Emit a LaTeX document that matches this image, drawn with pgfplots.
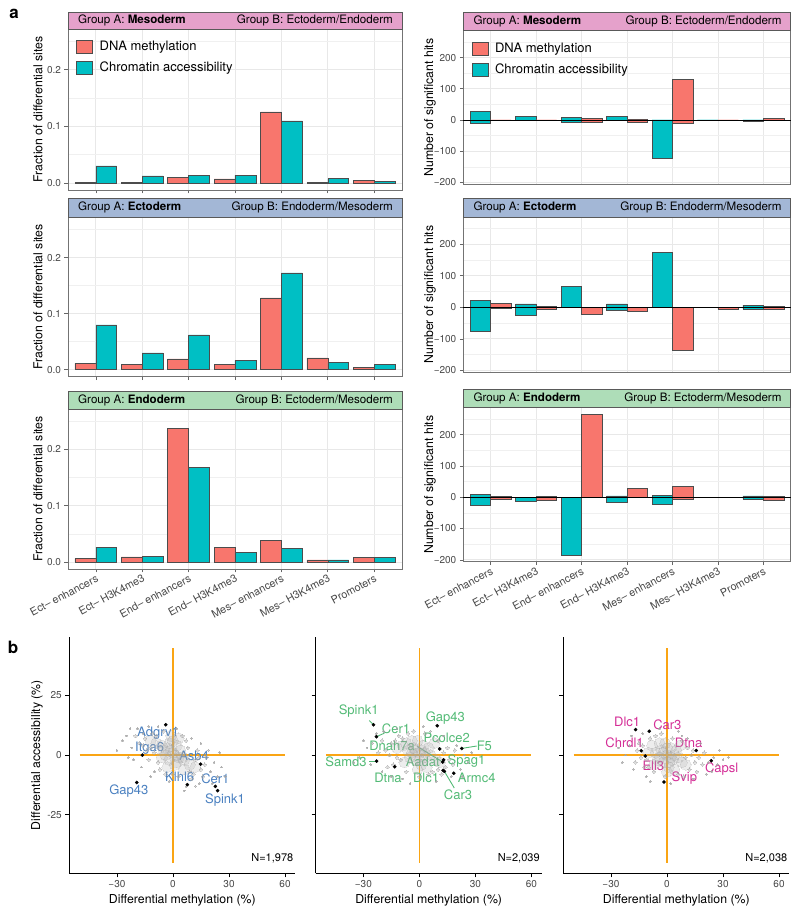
\documentclass[border=0pt]{standalone}
\usepackage{fontspec}
\setmainfont{TeX Gyre Heros}
\usepackage{pgfplots}
\usepackage{pgfplotstable}
\pgfplotsset{compat=1.18}
\definecolor{redbar}{RGB}{248,118,109}
\definecolor{tealbar}{RGB}{0,191,196}
\definecolor{pinkstrip}{RGB}{229,161,203}
\definecolor{bluestrip}{RGB}{163,183,214}
\definecolor{greenstrip}{RGB}{174,221,184}
\definecolor{orangeline}{RGB}{250,165,20}
\definecolor{genblue}{RGB}{74,128,192}
\definecolor{gengreen}{RGB}{82,186,117}
\definecolor{genmag}{RGB}{212,45,150}
\definecolor{cloud}{RGB}{165,165,165}

\pgfplotstableread{
c red teal
1 0.0005 0.0300
2 0.0005 0.0125
3 0.0095 0.0137
4 0.0070 0.0137
5 0.1256 0.1095
6 0.0005 0.0077
7 0.0040 0.0024
}\tabLone
\pgfplotstableread{
c red teal
1 0.0112 0.0800
2 0.0089 0.0300
3 0.0195 0.0620
4 0.0095 0.0166
5 0.1280 0.1730
6 0.0213 0.0124
7 0.0041 0.0089
}\tabLtwo
\pgfplotstableread{
c red teal
1 0.0060 0.0266
2 0.0089 0.0095
3 0.2380 0.1686
4 0.0260 0.0166
5 0.0379 0.0243
6 0.0036 0.0036
7 0.0077 0.0077
}\tabLthree
\pgfplotstableread{
c tp tn rp rn
1 27 -9 0 0
2 11 -2 0 0
3 9 -7 6 -6
4 12 -2 2 -6
5 0 -121 131 -11
6 0 -1 0 -2
7 0 -3 5 -2
}\tabRone
\pgfplotstableread{
c tp tn rp rn
1 21 -77 13 -2
2 11 -24 4 -7
3 65 0 0 -22
4 11 -8 0 -12
5 174 0 0 -136
6 0 -1 0 -6
7 7 -7 3 -5
}\tabRtwo
\pgfplotstableread{
c tp tn rp rn
1 10 -26 2 -6
2 0 -12 3 -9
3 0 -184 265 0
4 4 -17 28 0
5 6 -22 35 -7
6 0 0 0 0
7 4 -7 2 -9
}\tabRthree

\pgfplotsset{
  /pgf/number format/assume math mode=true,
  common/.style={scale only axis, anchor=south west, clip=false,
    ticklabel style={font=\fontsize{10}{12}\selectfont, text=black!72},
    label style={font=\fontsize{12.3}{14}\selectfont}},
  barpanel/.style={common, xmin=0.4, xmax=7.6, xtick={1,2,3,4,5,6,7}, xticklabels={},
    grid=both, major grid style={draw=black!9, line width=0.7pt},
    minor grid style={draw=black!6, line width=0.4pt},
    axis line style={draw=black!55, line width=0.7pt},
    tick style={draw=black!60, line width=0.6pt},
    major tick length=3.5pt, minor tick length=0pt, tick align=outside, tick pos=left,
    legend style={at={(axis description cs:0,1)}, anchor=north west, xshift=7pt, yshift=-9pt,
      draw=none, fill=none, font=\fontsize{13}{15}\selectfont, row sep=6pt, column sep=5pt,
      inner sep=1pt, cells={anchor=west}}},
  fracpanel/.style={barpanel, width=334pt, ymin=-0.0125, ymax=0.272, ytick={0,0.1,0.2},
    yticklabels={0.0,0.1,0.2}, minor ytick={0.05,0.15,0.25},
    ylabel={Fraction of differential sites},
    ylabel style={at={(axis description cs:-0.09,0.5)}, anchor=center}},
  hitpanel/.style={barpanel, width=327.4pt, ymin=-206, ymax=286, ytick={-200,-100,0,100,200},
    yticklabels={−200,−100,0,100,200}, minor ytick={-150,-50,50,150,250},
    ylabel={Number of significant hits},
    ylabel style={at={(axis description cs:-0.102,0.5)}, anchor=center}},
  rotlabels/.style={xticklabels={Ect– enhancers,Ect– H3K4me3,End– enhancers,End– H3K4me3,Mes– enhancers,Mes– H3K4me3,Promoters},
    xticklabel style={rotate=28, anchor=north east, inner sep=1pt, font=\fontsize{10.8}{12}\selectfont}},
  lbar/.style={ybar, bar width=0.45, bar shift=0pt, fill=redbar, draw=black!70, line width=0.5pt, forget plot},
  tbar/.style={ybar, bar width=0.45, bar shift=0pt, fill=tealbar, draw=black!70, line width=0.5pt, forget plot},
  scat/.style={common, width=226pt, height=236.4pt, xmin=-55.5, xmax=65.5, ymin=-49.5, ymax=49.5,
    axis lines=left, axis line style={-, black, line width=0.9pt},
    tick style={black, line width=0.8pt}, major tick length=4pt, tick align=outside,
    xtick={-30,0,30,60}, xticklabels={−30,0,30,60}, ytick={-25,0,25},
    xlabel={Differential methylation (\%)}},
  overlay/.style={scale only axis, anchor=south west, clip=false, width=226pt, height=236.4pt,
    xmin=-55.5, xmax=65.5, ymin=-49.5, ymax=49.5, hide axis},
  cbig/.style={only marks, mark=*, mark size=5.5pt, color=cloud,
    mark options={fill=cloud, draw=cloud, line width=0pt, opacity=0.2}, forget plot},
  cmid/.style={only marks, mark=*, mark size=1.8pt, color=cloud,
    mark options={fill=cloud, draw=cloud, line width=0pt, opacity=0.4}, forget plot},
  csml/.style={only marks, mark=*, mark size=0.9pt, color=cloud,
    mark options={fill=cloud, draw=cloud, line width=0pt, opacity=0.55}, forget plot},
  gdot/.style={only marks, mark=*, mark size=1.6pt, color=black, mark options={fill=black, opacity=1}, forget plot},
  oline/.style={color=orangeline, line width=1.6pt, no markers, opacity=1, forget plot},
}
\newcommand{\legendimgs}{%
  \addlegendimage{legend image code/.code={\draw[fill=redbar,draw=black!70,line width=0.5pt] (0pt,-6.5pt) rectangle (16pt,6.5pt);}}
  \addlegendentry{DNA methylation}
  \addlegendimage{legend image code/.code={\draw[fill=tealbar,draw=black!70,line width=0.5pt] (0pt,-6.5pt) rectangle (16pt,6.5pt);}}
  \addlegendentry{Chromatin accessibility}}
\newcommand{\strip}[4]{%
  \fill[#1, draw=black!65, line width=0.5pt] (rel axis cs:0,1) rectangle ([yshift=#2]rel axis cs:1,1);
  \node[anchor=west, font=\fontsize{11.6}{13}\selectfont, inner sep=0pt] at ([xshift=10pt,yshift=#2/2]rel axis cs:0,1) {#3};
  \node[anchor=east, font=\fontsize{11.6}{13}\selectfont, inner sep=0pt] at ([xshift=-9pt,yshift=#2/2]rel axis cs:1,1) {#4};}
\newcommand{\cross}{%
  \addplot[oline] coordinates {(-50,0) (60,0)};
  \addplot[oline] coordinates {(0,-45) (0,45)};}
\tikzset{gl/.style={text=#1, font=\fontsize{13}{15}\selectfont, inner sep=0pt, text opacity=1}}

\begin{document}
\begin{tikzpicture}[x=1pt,y=1pt]
% ---------- left column ----------
\begin{axis}[fracpanel, at={(68pt,723pt)}, height=161pt]
  \addplot[lbar] table[x expr=\thisrow{c}-0.225, y=red] {\tabLone};
  \addplot[tbar] table[x expr=\thisrow{c}+0.225, y=teal] {\tabLone};
  \legendimgs
  \strip{pinkstrip}{17pt}{Group A: \textbf{Mesoderm}}{Group B: Ectoderm/Endoderm}
\end{axis}
\begin{axis}[fracpanel, at={(68pt,536.3pt)}, height=159.4pt]
  \addplot[lbar] table[x expr=\thisrow{c}-0.225, y=red] {\tabLtwo};
  \addplot[tbar] table[x expr=\thisrow{c}+0.225, y=teal] {\tabLtwo};
  \strip{bluestrip}{19pt}{Group A: \textbf{Ectoderm}}{Group B: Endoderm/Mesoderm}
\end{axis}
\begin{axis}[fracpanel, rotlabels, at={(68pt,344pt)}, height=160pt]
  \addplot[lbar] table[x expr=\thisrow{c}-0.225, y=red] {\tabLthree};
  \addplot[tbar] table[x expr=\thisrow{c}+0.225, y=teal] {\tabLthree};
  \strip{greenstrip}{18pt}{Group A: \textbf{Endoderm}}{Group B: Ectoderm/Mesoderm}
\end{axis}
% ---------- right column ----------
\begin{axis}[hitpanel, major x tick style={draw=none}, at={(463.3pt,728.7pt)}, height=153.6pt]
  \addplot[tbar] table[x expr=\thisrow{c}-0.225, y=tp] {\tabRone};
  \addplot[tbar] table[x expr=\thisrow{c}-0.225, y=tn] {\tabRone};
  \addplot[lbar] table[x expr=\thisrow{c}+0.225, y=rp] {\tabRone};
  \addplot[lbar] table[x expr=\thisrow{c}+0.225, y=rn] {\tabRone};
  \draw[black, line width=0.8pt] (axis cs:0.4,0) -- (axis cs:7.6,0);
  \legendimgs
  \strip{pinkstrip}{18.4pt}{Group A: \textbf{Mesoderm}}{Group B: Ectoderm/Endoderm}
\end{axis}
\begin{axis}[hitpanel, major x tick style={draw=none}, at={(463.3pt,540.7pt)}, height=155.3pt]
  \addplot[tbar] table[x expr=\thisrow{c}-0.225, y=tp] {\tabRtwo};
  \addplot[tbar] table[x expr=\thisrow{c}-0.225, y=tn] {\tabRtwo};
  \addplot[lbar] table[x expr=\thisrow{c}+0.225, y=rp] {\tabRtwo};
  \addplot[lbar] table[x expr=\thisrow{c}+0.225, y=rn] {\tabRtwo};
  \draw[black, line width=0.8pt] (axis cs:0.4,0) -- (axis cs:7.6,0);
  \strip{bluestrip}{19pt}{Group A: \textbf{Ectoderm}}{Group B: Endoderm/Mesoderm}
\end{axis}
\begin{axis}[hitpanel, rotlabels, at={(463.3pt,351.3pt)}, height=154pt]
  \addplot[tbar] table[x expr=\thisrow{c}-0.225, y=tp] {\tabRthree};
  \addplot[tbar] table[x expr=\thisrow{c}-0.225, y=tn] {\tabRthree};
  \addplot[lbar] table[x expr=\thisrow{c}+0.225, y=rp] {\tabRthree};
  \addplot[lbar] table[x expr=\thisrow{c}+0.225, y=rn] {\tabRthree};
  \draw[black, line width=0.8pt] (axis cs:0.4,0) -- (axis cs:7.6,0);
  \strip{greenstrip}{18.7pt}{Group A: \textbf{Endoderm}}{Group B: Ectoderm/Mesoderm}
\end{axis}
% ---------- scatter 1 ----------
\begin{axis}[scat, at={(69.3pt,39.7pt)}, ylabel={Differential accessibility (\%)},
  ylabel style={at={(axis description cs:-0.143,0.5)}, anchor=center}]
  \cross
  \addplot[cbig] coordinates {(0,1) (-3,3) (3,-1) (-6,4) (6,-2) (-2,-2) (2,4) (-9,5) (9,-4) (0,6) (1,-4) (-4,0) (4,2) (-12,6) (12,-5) (-1,8) (-6,-1) (6,-6) (-3,-5) (3,7) (-1,2) (1,0) (-2,5) (2,-3) (-5,2) (5,-1)};
  \addplot[cmid] coordinates {(-15,7) (-14,2) (-16,4) (-11,9) (-8,-3) (-10,1) (-18,5) (15,-6) (14,-1) (17,-4) (11,-8) (8,3) (5,8) (-5,10) (-7,-6) (0,-8) (3,-9) (10,-10) (16,-9) (-20,8) (-13,-2) (13,2) (18,-1) (-4,-8) (7,6) (-9,8) (9,-7) (-12,3) (12,-2)};
  \addplot[csml] coordinates {(-25,8) (-22,3) (-27,6) (-19,11) (-21,-2) (-30,2) (-17,-5) (-13,12) (-8,12) (-10,-7) (20,-7) (22,-3) (24,-9) (21,-12) (12,-13) (19,2) (26,-5) (10,7) (2,11) (-2,-11) (7,-13) (28,-9) (-24,-1) (15,5) (-16,9) (6,-15) (-23,11) (25,1) (-12,-9) (14,-12)};
  \addplot[gdot] coordinates {(-3.9,12.7) (-16.4,0) (14.8,-3.8) (7.7,-12.4) (22.7,-13.1) (23.9,-14.9) (-19.4,-11.5)};
  \node[gl=genblue] at (axis cs:-8,9.2) {Adgrv1};
  \node[gl=genblue] at (axis cs:-12.5,3) {Itga6};
  \node[gl=genblue] at (axis cs:11.3,-0.4) {Asb4};
  \node[gl=genblue] at (axis cs:3.6,-9) {Klhl6};
  \node[gl=genblue] at (axis cs:22.7,-9.9) {Cer1};
  \node[gl=genblue] at (axis cs:27.9,-19) {Spink1};
  \node[gl=genblue] at (axis cs:-23.6,-15.2) {Gap43};
  \node[anchor=east, font=\fontsize{11}{13}\selectfont, inner sep=0pt] at (axis cs:64.5,-43.4) {N=1,978};
\end{axis}
% ---------- scatter 2: orange cross in its own overlay axis, drawn first ----------
\begin{axis}[overlay, at={(315.7pt,39.7pt)}]
  \cross
\end{axis}
\begin{axis}[scat, at={(315.7pt,39.7pt)}, yticklabels={}]
  \addplot[cbig] coordinates {(0,1) (-3,3) (3,-1) (-6,2) (6,0) (-2,-2) (2,4) (-9,4) (9,-2) (-1,6) (1,-4) (-5,-1) (5,3) (-12,3) (11,-3) (-4,6) (4,-5) (-8,-3) (8,5) (-1,-6) (-2,2) (1,2) (-4,1) (3,1) (0,-2) (-7,5)};
  \addplot[cmid] coordinates {(-15,5) (-16,0) (-14,-4) (-11,8) (-10,-2) (-18,2) (-20,6) (14,-5) (13,1) (16,-2) (12,-8) (10,6) (3,9) (-6,9) (-7,-7) (0,-9) (5,-8) (-13,6) (15,3) (-22,1) (18,-4) (-3,10) (7,-7) (-17,-5) (19,2) (-12,-1) (10,-6) (-9,7)};
  \addplot[csml] coordinates {(-25,5) (-28,3) (-32,-1) (-35,-3) (-26,-4) (-23,9) (-19,10) (-12,11) (-20,-7) (22,-6) (24,0) (26,-3) (20,4) (17,-9) (9,-11) (-9,-10) (2,12) (-5,-12) (28,1) (-30,6) (13,8) (23,-9) (-15,-9) (6,10)};
  \addplot[color=gengreen, line width=0.9pt, no markers, forget plot] coordinates {(-26.8,14.5) (-24.6,12.7)};
  \addplot[color=gengreen, line width=0.9pt, no markers, forget plot] coordinates {(-18.7,9.2) (-23,7.7)};
  \addplot[color=gengreen, line width=0.9pt, no markers, forget plot] coordinates {(30.7,3.8) (22.7,2.8)};
  \addplot[color=gengreen, line width=0.9pt, no markers, forget plot] coordinates {(-26.8,-2.5) (-22.9,-2.5)};
  \addplot[color=gengreen, line width=0.9pt, no markers, forget plot] coordinates {(-1.1,3.6) (12.5,-2.9)};
  \addplot[color=gengreen, line width=0.9pt, no markers, forget plot] coordinates {(18.7,-13.8) (13.4,-6.8)};
  \addplot[gdot] coordinates {(-24.6,12.7) (-23,7.7) (9.6,12.3) (10.9,2.6) (22.7,2.8) (-22.9,-2.5) (-13.2,-4.9) (12.5,-2.9) (13,-2) (12.7,-6.4) (18.4,-7.6) (13.4,-6.8)};
  \node[gl=gengreen] at (axis cs:-32.5,18.3) {Spink1};
  \node[gl=gengreen] at (axis cs:-12.5,11) {Cer1};
  \node[gl=gengreen] at (axis cs:13.9,15.5) {Gap43};
  \node[gl=gengreen] at (axis cs:14.6,7.2) {Pcolce2};
  \node[gl=gengreen] at (axis cs:34.8,3.9) {F5};
  \node[gl=gengreen] at (axis cs:-14.6,3.9) {Dnah7a};
  \node[gl=gengreen] at (axis cs:-39.3,-2.7) {Samd3};
  \node[gl=gengreen] at (axis cs:-16.8,-9.6) {Dtna};
  \node[gl=gengreen] at (axis cs:1.8,-2.7) {Aadat};
  \node[gl=gengreen] at (axis cs:25.2,-2.7) {Spag1};
  \node[gl=gengreen] at (axis cs:3.6,-9.6) {Dlc1};
  \node[gl=gengreen] at (axis cs:30.7,-9.6) {Armc4};
  \node[gl=gengreen] at (axis cs:20.7,-16.6) {Car3};
  \node[anchor=east, font=\fontsize{11}{13}\selectfont, inner sep=0pt] at (axis cs:64.5,-43.4) {N=2,039};
\end{axis}
% ---------- scatter 3 ----------
\begin{axis}[scat, at={(563.3pt,39.7pt)}, yticklabels={}]
  \cross
  \addplot[cbig] coordinates {(0,0) (-3,2) (3,-2) (-6,1) (6,-1) (-2,-3) (2,3) (-8,4) (8,-3) (-1,5) (1,-5) (-5,-2) (5,2) (-10,1) (10,-4) (-4,5) (4,-6) (-7,-4) (7,4) (0,-7) (-2,1) (2,-1) (-4,-1) (4,0) (0,3) (1,-3)};
  \addplot[cmid] coordinates {(-13,4) (-14,-1) (-12,-5) (-9,7) (-11,-2) (-16,2) (12,-6) (13,0) (15,-3) (11,3) (14,2) (3,7) (-6,8) (-7,-7) (-1,-9) (6,-8) (17,-1) (-15,5) (19,-4) (-3,9) (9,-9) (-17,-3) (20,1) (16,-7) (10,-1) (-10,-5) (8,6)};
  \addplot[csml] coordinates {(-20,4) (-22,0) (-24,-3) (-19,8) (-18,-6) (-13,9) (22,-3) (25,-1) (27,-4) (28,2) (21,-8) (18,5) (8,8) (-9,-11) (2,-12) (-4,11) (30,-2) (-26,3) (11,7) (24,-7) (-11,-9) (14,-10) (33,-1) (6,10)};
  \addplot[gdot] coordinates {(-16.8,10.7) (-9.5,10) (-13.8,1.8) (-11.6,-0.4) (15.7,1.9) (23.7,-2.4) (-1.6,-11.3)};
  \node[gl=genmag] at (axis cs:-21.3,13.8) {Dlc1};
  \node[gl=genmag] at (axis cs:0.2,12.8) {Car3};
  \node[gl=genmag] at (axis cs:-22.7,5.3) {Chrdl1};
  \node[gl=genmag] at (axis cs:-7.3,-4.3) {Ell3};
  \node[gl=genmag] at (axis cs:11.6,5.3) {Dtna};
  \node[gl=genmag] at (axis cs:29.3,-5.9) {Capsl};
  \node[gl=genmag] at (axis cs:9.3,-9.6) {Svip};
  \node[anchor=east, font=\fontsize{11}{13}\selectfont, inner sep=0pt] at (axis cs:64.5,-43.4) {N=2,038};
\end{axis}
\node[font=\bfseries\fontsize{17}{19}\selectfont] at (14pt,899pt) {a};
\node[font=\bfseries\fontsize{17}{19}\selectfont] at (13pt,265.5pt) {b};
\pgfresetboundingbox
\path[use as bounding box] (0pt,0pt) rectangle (800pt,913pt);
\end{tikzpicture}
\end{document}
